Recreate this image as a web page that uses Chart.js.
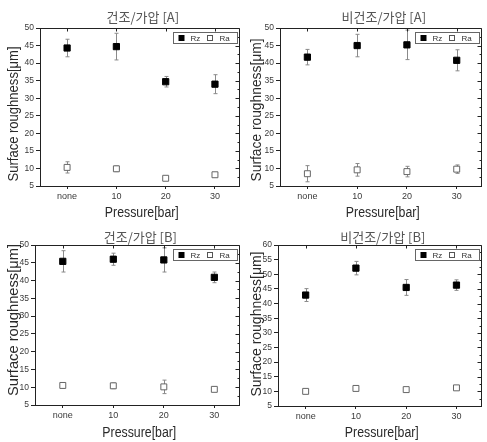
<!DOCTYPE html>
<html>
<head>
<meta charset="utf-8">
<script src="https://cdn.jsdelivr.net/npm/chart.js@4.4.1/dist/chart.umd.min.js"></script>
<style>
  body { margin: 0; background: #fff; }
  #wrap { position: relative; width: 487px; height: 442px; overflow: hidden; }
  canvas { position: absolute; }
</style>
</head>
<body>
<div id="wrap">
  <canvas id="c1" width="245" height="222" style="left:0;top:0"></canvas>
  <canvas id="c2" width="244" height="222" style="left:243px;top:0"></canvas>
  <canvas id="c3" width="245" height="220" style="left:0;top:222px"></canvas>
  <canvas id="c4" width="244" height="220" style="left:243px;top:222px"></canvas>
</div>
<script>
// 1. Data
const pressures = ['none', '10', '20', '30'];

const rzDryA = [44.3, 44.7, 34.7, 34.0];
const rzDryAErr = [2.5, 3.8, 1.5, 2.7];
const raDryA = [10.3, 9.9, 7.2, 8.2];
const raDryAErr = [1.6, 0.8, 0.5, 0.6];

const rzWetA = [41.7, 45.0, 45.2, 40.8];
const rzWetAErr = [2.2, 3.2, 4.2, 3.0];
const raWetA = [8.5, 9.6, 9.1, 9.8];
const raWetAErr = [2.3, 1.8, 1.5, 1.2];

const rzDryB = [45.4, 46.0, 45.8, 40.9];
const rzDryBErr = [3.0, 1.7, 3.4, 1.5];
const raDryB = [10.5, 10.4, 10.1, 9.4];
const raDryBErr = [0.7, 0.8, 1.9, 0.6];

const rzWetB = [42.9, 52.1, 45.5, 46.3];
const rzWetBErr = [2.2, 2.3, 2.7, 1.8];
const raWetB = [10.0, 11.0, 10.6, 11.2];
const raWetBErr = [0.6, 0.8, 0.6, 0.6];

// 2. Panel setup (plot area in canvas pixels, y-title centre/length)
const panels = [
  { id: 'c1', title: '건조/가압 [A]', rz: rzDryA, rzErr: rzDryAErr, ra: raDryA, raErr: raDryAErr, yMax: 50,
    area: { left: 40, top: 28, right: 243, bottom: 186 }, titleY: 17, xTitleY: 213, yTitleMid: 114, yTitleLen: 135 },
  { id: 'c2', title: '비건조/가압 [A]', rz: rzWetA, rzErr: rzWetAErr, ra: raWetA, raErr: raWetAErr, yMax: 50,
    area: { left: 37, top: 28, right: 244, bottom: 186 }, titleY: 17, xTitleY: 213, yTitleMid: 110, yTitleLen: 143 },
  { id: 'c3', title: '건조/가압 [B]', rz: rzDryB, rzErr: rzDryBErr, ra: raDryB, raErr: raDryBErr, yMax: 50,
    area: { left: 35, top: 23, right: 243, bottom: 183 }, titleY: 15, xTitleY: 211, yTitleMid: 98, yTitleLen: 152 },
  { id: 'c4', title: '비건조/가압 [B]', rz: rzWetB, rzErr: rzWetBErr, ra: raWetB, raErr: raWetBErr, yMax: 60,
    area: { left: 35, top: 23, right: 244, bottom: 184 }, titleY: 15, xTitleY: 211, yTitleMid: 102, yTitleLen: 145 }
];

const SANS = '"Liberation Sans", Arial, sans-serif';

// 3. Helper: points for a series
function toPoints(values) {
  return values.map((v, i) => ({ x: i, y: v }));
}

// 4. Helper: squeezed text (the original uses a narrow font)
function narrowText(ctx, text, x, y, width) {
  const w = ctx.measureText(text).width;
  ctx.save();
  ctx.translate(x, y);
  ctx.scale(width / w, 1);
  ctx.fillText(text, 0, 0);
  ctx.restore();
}

// 5. Plugin: error bars, frame, titles, legend
const decorPlugin = {
  id: 'decor',
  beforeDatasetsDraw(chart) {
    const ctx = chart.ctx;
    const xs = chart.scales.x;
    const ys = chart.scales.y;
    const p = chart.options.plugins.decor;
    ctx.save();
    ctx.strokeStyle = '#8a8a8a';
    ctx.lineWidth = 1;
    [[p.rz, p.rzErr], [p.ra, p.raErr]].forEach(([vals, errs]) => {
      vals.forEach((v, i) => {
        const x = Math.round(xs.getPixelForValue(i)) + 0.5;
        const yTop = ys.getPixelForValue(v + errs[i]);
        const yBot = ys.getPixelForValue(v - errs[i]);
        ctx.beginPath();
        ctx.moveTo(x, yTop); ctx.lineTo(x, yBot);
        ctx.moveTo(x - 2, yTop); ctx.lineTo(x + 2, yTop);
        ctx.moveTo(x - 2, yBot); ctx.lineTo(x + 2, yBot);
        ctx.stroke();
      });
    });
    ctx.restore();
  },
  afterDraw(chart) {
    const ctx = chart.ctx;
    const a = chart.chartArea;
    const xs = chart.scales.x;
    const ys = chart.scales.y;
    const p = chart.options.plugins.decor;
    ctx.save();

    // frame: top and right edges with inward ticks
    ctx.strokeStyle = '#222';
    ctx.lineWidth = 1;
    const top = Math.round(a.top) + 0.5;
    const right = Math.round(a.right) - 0.5;
    ctx.beginPath();
    ctx.moveTo(a.left, top); ctx.lineTo(right, top); ctx.lineTo(right, a.bottom);
    pressures.forEach((c, i) => {
      const x = Math.round(xs.getPixelForValue(i)) + 0.5;
      ctx.moveTo(x, top); ctx.lineTo(x, top + 3);
    });
    for (let v = 5; v <= p.yMax; v += 2.5) {
      const y = Math.round(ys.getPixelForValue(v)) + 0.5;
      const len = v % 5 === 0 ? 4 : 2;
      ctx.moveTo(right, y); ctx.lineTo(right - len, y);
    }
    ctx.stroke();

    // title
    const cx = (a.left + a.right) / 2;
    ctx.fillStyle = '#555';
    ctx.font = '13px "Noto Sans CJK KR", sans-serif';
    ctx.textAlign = 'center';
    ctx.textBaseline = 'middle';
    ctx.fillText(p.title, cx + 3, p.titleY);

    // axis titles
    ctx.fillStyle = '#2a2a2a';
    ctx.font = '14px ' + SANS;
    narrowText(ctx, 'Pressure[bar]', cx + 2, p.xTitleY, 74);
    ctx.save();
    ctx.translate(14, p.yTitleMid);
    ctx.rotate(-Math.PI / 2);
    ctx.font = '14px ' + SANS;
    narrowText(ctx, 'Surface roughness[\u03bcm]', 0, 0, p.yTitleLen);
    ctx.restore();

    // legend box
    const bw = 64, bh = 11;
    const bx = Math.round(a.right) - 3 - bw + 0.5;
    const by = Math.round(a.top) + 4 + 0.5;
    ctx.strokeStyle = '#666';
    ctx.fillStyle = '#fff';
    ctx.fillRect(bx, by, bw, bh);
    ctx.strokeRect(bx, by, bw, bh);
    ctx.fillStyle = '#000';
    ctx.fillRect(bx + 5, by + 2.5, 6, 6);
    ctx.strokeStyle = '#555';
    ctx.strokeRect(bx + 34, by + 3, 5, 5);
    ctx.fillStyle = '#333';
    ctx.font = '8px ' + SANS;
    ctx.textAlign = 'left';
    ctx.fillText('Rz', bx + 17, by + bh / 2 + 0.5);
    ctx.fillText('Ra', bx + 46, by + bh / 2 + 0.5);
    ctx.restore();
  }
};

// 6. Build one chart per panel
function renderPanel(p) {
  const canvas = document.getElementById(p.id);
  const a = p.area;
  new Chart(canvas.getContext('2d'), {
    type: 'scatter',
    data: {
      datasets: [
        {
          label: 'Rz',
          data: toPoints(p.rz),
          pointStyle: 'rect',
          pointRadius: 4.4,
          backgroundColor: '#000',
          borderColor: '#000',
          borderWidth: 1
        },
        {
          label: 'Ra',
          data: toPoints(p.ra),
          pointStyle: 'rect',
          pointRadius: 4.2,
          backgroundColor: '#fff',
          borderColor: '#666',
          borderWidth: 1
        }
      ]
    },
    options: {
      responsive: false,
      animation: false,
      layout: { padding: { left: 0, top: a.top, right: canvas.width - a.right, bottom: 0 } },
      scales: {
        x: {
          type: 'linear',
          min: -0.55,
          max: 3.5,
          afterBuildTicks: (s) => { s.ticks = pressures.map((c, i) => ({ value: i })); },
          afterFit: (s) => { s.height = canvas.height - a.bottom; },
          ticks: {
            callback: (v) => pressures[v],
            font: { family: SANS, size: 9 },
            color: '#3a3a3a',
            padding: 2,
            maxRotation: 0
          },
          grid: { drawOnChartArea: false, tickLength: 3, color: '#222' },
          border: { display: true, color: '#222' }
        },
        y: {
          min: 5,
          max: p.yMax,
          afterFit: (s) => { s.width = a.left; },
          ticks: { stepSize: 5, font: { family: SANS, size: 8.5 }, color: '#3a3a3a', padding: 2 },
          grid: { drawOnChartArea: false, tickLength: 4, color: '#222' },
          border: { display: true, color: '#222' }
        }
      },
      plugins: {
        legend: { display: false },
        title: { display: false },
        tooltip: { enabled: false },
        decor: p
      }
    },
    plugins: [decorPlugin]
  });
}

panels.forEach(renderPanel);
</script>
</body>
</html>
